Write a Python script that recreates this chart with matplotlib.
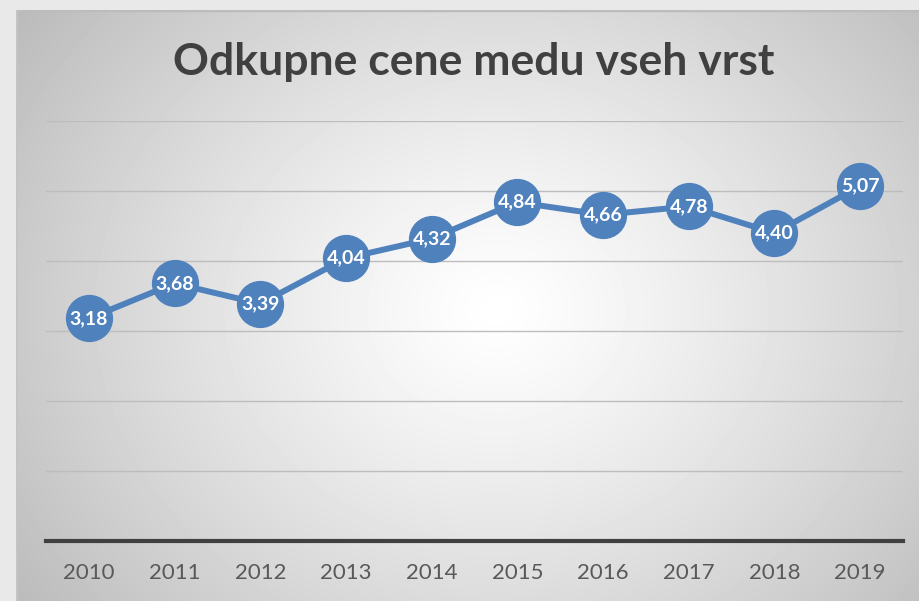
import numpy as np
import matplotlib.pyplot as plt

# Data
years = ['2010', '2011', '2012', '2013', '2014', '2015', '2016', '2017', '2018', '2019']
prices = [3.18, 3.68, 3.39, 4.04, 4.32, 4.84, 4.66, 4.78, 4.40, 5.07]
title = 'Odkupne cene medu vseh vrst'

W, H = 920, 601
fig = plt.figure(figsize=(W / 100, H / 100), dpi=100)
fig.patch.set_facecolor('#e9e9e9')

# Background panel with radial gradient
bg = fig.add_axes([16 / W, 0, 1 - 16 / W, 1 - 10 / H])
bg.set_axis_off()
yy, xx = np.mgrid[0:591, 0:904]
cx, cy = 480, 300
d = np.sqrt(((xx - cx) / 470.0) ** 2 + ((yy - cy) / 400.0) ** 2)
d = np.clip(d / d.max(), 0, 1)
val = 1.0 - 0.27 * d ** 1.2
bg.imshow(val, cmap='gray', vmin=0, vmax=1, aspect='auto', extent=[0, 1, 0, 1])
bg.set_xlim(0, 1)
bg.set_ylim(0, 1)
bg.axhline(1, color='#bcbcbc', lw=2.5)
bg.axvline(0, color='#c4c4c4', lw=2)

# Plot area
ax = fig.add_axes([46 / W, (H - 541) / H, (903 - 46) / W, (541 - 121) / H])
ax.patch.set_alpha(0)
x = np.arange(len(years))
ax.set_xlim(-0.5, len(years) - 0.5)
ax.set_ylim(0, 6)
ax.set_yticks(np.arange(0, 7, 1))
ax.yaxis.grid(True, color='#bdbdbd', lw=1)
ax.set_axisbelow(True)
for s in ['top', 'right', 'left']:
    ax.spines[s].set_visible(False)
ax.spines['bottom'].set_color('#404040')
ax.spines['bottom'].set_linewidth(3)
ax.tick_params(axis='y', left=False, labelleft=False)
ax.tick_params(axis='x', length=0, pad=16, labelsize=16, labelcolor='#595959')
ax.set_xticks(x)
ax.set_xticklabels(years, family='Lato')

ax.plot(x, prices, color='#4f81bd', lw=4.3, marker='o', markersize=33,
        markeredgecolor='#4f81bd', zorder=3, clip_on=False)
for xi, v in zip(x, prices):
    ax.text(xi, v, f'{v:.2f}'.replace('.', ','), ha='center', va='center',
            color='white', fontsize=14, fontweight='bold', family='Lato', zorder=4)

fig.text(474 / W, 1 - 62 / H, title, ha='center', va='center', fontsize=32,
         fontweight='bold', color='#404040', family='Lato')

fig.savefig('out.png', dpi=100, facecolor=fig.get_facecolor())
